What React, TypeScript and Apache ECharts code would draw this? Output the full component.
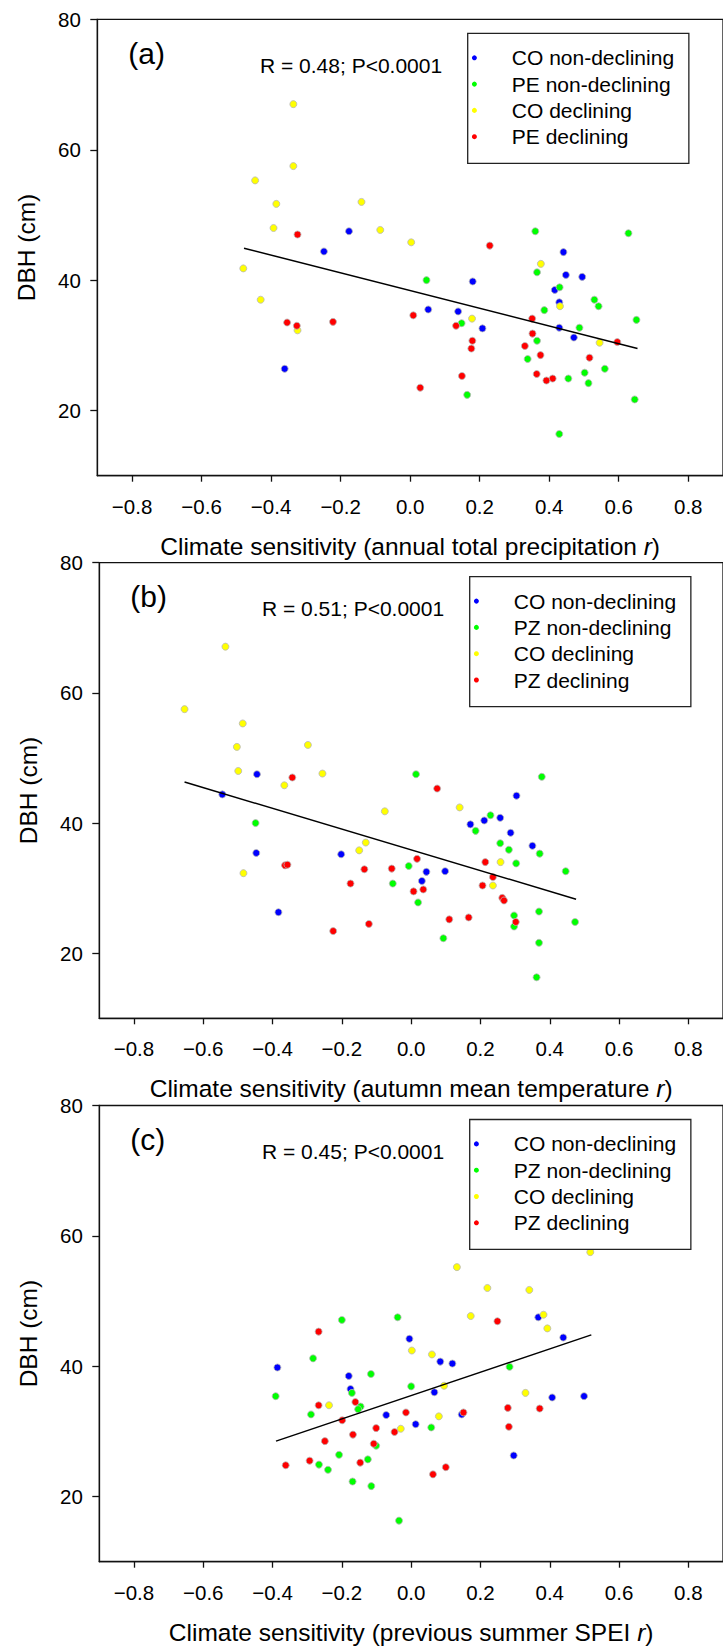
import React, { useEffect, useRef } from "react";
import * as echarts from "echarts";

// ---------- tick labels ----------
const xTicks = [-0.8, -0.6, -0.4, -0.2, 0, 0.2, 0.4, 0.6, 0.8];
const yTicks = [20, 40, 60, 80];

// ---------- panel (a): annual total precipitation ----------
const aCONon = [[-0.176, 47.5], [-0.248, 44.4], [-0.361, 26.4], [0.441, 44.3], [0.448, 40.8], [0.495, 40.5], [0.18, 39.8], [0.416, 38.5], [0.429, 36.6], [0.052, 35.5], [0.138, 35.2], [0.429, 32.7], [0.208, 32.6], [0.471, 31.2]];
const aPENon = [[0.36, 47.5], [0.628, 47.2], [0.365, 41.2], [0.047, 40.0], [0.43, 38.9], [0.53, 37.0], [0.542, 36.0], [0.386, 35.4], [0.651, 33.9], [0.148, 33.4], [0.487, 32.7], [0.365, 30.7], [0.338, 27.9], [0.56, 26.4], [0.502, 25.8], [0.455, 24.9], [0.513, 24.2], [0.164, 22.4], [0.646, 21.7], [0.429, 16.4]];
const aCODec = [[-0.336, 67.0], [-0.336, 57.5], [-0.446, 55.3], [-0.385, 51.7], [-0.14, 52.0], [-0.393, 48.0], [-0.086, 47.7], [0.003, 45.8], [0.376, 42.5], [-0.48, 41.8], [-0.43, 37.0], [0.431, 36.0], [0.178, 34.1], [-0.324, 32.3], [0.545, 30.4]];
const aPEDec = [[-0.324, 47.0], [-0.354, 33.5], [-0.326, 33.0], [-0.222, 33.6], [0.009, 34.6], [0.229, 45.3], [0.351, 34.1], [0.132, 33.0], [0.352, 31.8], [0.179, 30.7], [0.596, 30.5], [0.176, 29.5], [0.33, 29.9], [0.375, 28.5], [0.516, 28.1], [0.364, 25.6], [0.149, 25.3], [0.41, 24.9], [0.392, 24.6], [0.029, 23.5]];
const aFit = [[-0.478, 44.9], [0.654, 29.5]];

// ---------- panel (b): autumn mean temperature ----------
const bCONon = [[-0.445, 47.5], [-0.545, 44.4], [-0.447, 35.4], [-0.202, 35.2], [-0.383, 26.3], [0.304, 44.2], [0.257, 40.8], [0.211, 40.4], [0.171, 39.8], [0.287, 38.5], [0.35, 36.5], [0.098, 32.6], [0.044, 32.5], [0.031, 31.1]];
const bPZNon = [[0.014, 47.5], [0.377, 47.1], [0.229, 41.2], [-0.449, 40.0], [0.186, 38.8], [0.257, 36.9], [0.282, 35.9], [0.371, 35.3], [0.303, 33.8], [-0.007, 33.4], [0.446, 32.6], [-0.053, 30.7], [0.02, 27.8], [0.369, 26.4], [0.297, 25.8], [0.473, 24.8], [0.297, 24.1], [0.093, 22.3], [0.369, 21.6], [0.362, 16.3]];
const bCODec = [[-0.536, 67.1], [-0.654, 57.5], [-0.486, 55.3], [-0.503, 51.7], [-0.298, 52.0], [-0.499, 48.0], [-0.256, 47.6], [-0.366, 45.8], [-0.076, 41.8], [-0.131, 37.0], [-0.15, 35.8], [-0.484, 32.3], [0.14, 42.4], [0.258, 34.0], [0.236, 30.4]];
const bPZDec = [[-0.343, 47.0], [-0.364, 33.5], [-0.357, 33.6], [-0.135, 32.9], [-0.056, 33.0], [-0.175, 30.7], [0.007, 29.5], [0.017, 34.5], [-0.122, 24.5], [-0.225, 23.4], [0.075, 45.3], [0.214, 34.0], [0.236, 31.7], [0.206, 30.4], [0.035, 29.8], [0.263, 28.5], [0.268, 28.1], [0.11, 25.2], [0.166, 25.5], [0.302, 24.8]];
const bFit = [[-0.654, 46.3], [0.476, 28.3]];

// ---------- panel (c): previous summer SPEI ----------
const cCONon = [[-0.005, 44.2], [-0.386, 39.8], [-0.18, 38.5], [-0.175, 36.5], [-0.072, 32.5], [0.367, 47.5], [0.439, 44.4], [0.084, 40.7], [0.119, 40.4], [0.067, 36.0], [0.407, 35.2], [0.499, 35.4], [0.146, 32.6], [0.013, 31.1], [0.296, 26.3]];
const cPZNon = [[-0.2, 47.1], [-0.039, 47.5], [-0.283, 41.2], [-0.116, 38.8], [-0.171, 35.9], [0.0, 36.9], [-0.391, 35.4], [-0.146, 33.8], [-0.153, 33.4], [-0.289, 32.6], [-0.101, 27.8], [-0.208, 26.4], [-0.125, 25.7], [-0.266, 24.9], [-0.24, 24.1], [-0.169, 22.3], [-0.115, 21.6], [-0.035, 16.3], [0.284, 39.9], [0.058, 30.6]];
const cCODec = [[0.517, 57.5], [0.132, 55.2], [0.22, 52.0], [0.341, 51.7], [0.172, 47.7], [0.382, 47.9], [0.393, 45.8], [0.002, 42.4], [0.06, 41.8], [0.095, 37.0], [0.33, 35.9], [-0.237, 34.0], [0.08, 32.3], [-0.03, 30.4]];
const cPZDec = [[-0.267, 45.3], [-0.267, 34.0], [-0.161, 34.5], [-0.015, 32.9], [-0.199, 31.7], [-0.101, 30.5], [-0.048, 29.9], [-0.168, 29.5], [-0.249, 28.5], [-0.108, 28.1], [-0.293, 25.5], [-0.147, 25.2], [-0.362, 24.8], [0.249, 46.9], [0.151, 32.9], [0.279, 33.6], [0.371, 33.5], [0.282, 30.7], [0.1, 24.5], [0.063, 23.4]];
const cFit = [[-0.39, 28.5], [0.52, 44.8]];

const namesA = ["CO non-declining", "PE non-declining", "CO declining", "PE declining"];
const namesBC = ["CO non-declining", "PZ non-declining", "CO declining", "PZ declining"];
const colors = ["#0000ff", "#00ff00", "#ffff00", "#ff0000"];

const FONT = '"Liberation Sans", Arial, Helvetica, sans-serif';

const panels = [
  { left: 97.3, top: 19.4, height: 456.3, tag: "(a)", rText: "R = 0.48; P<0.0001", title: "Climate sensitivity (annual total precipitation {i|r})", names: namesA, data: [aCONon, aPENon, aCODec, aPEDec], fit: aFit },
  { left: 99.3, top: 562.7, height: 455.6, tag: "(b)", rText: "R = 0.51; P<0.0001", title: "Climate sensitivity (autumn mean temperature {i|r})", names: namesBC, data: [bCONon, bPZNon, bCODec, bPZDec], fit: bFit },
  { left: 99.3, top: 1105.5, height: 456.2, tag: "(c)", rText: "R = 0.45; P<0.0001", title: "Climate sensitivity (previous summer SPEI {i|r})", names: namesBC, data: [cCONon, cPZNon, cCODec, cPZDec], fit: cFit },
];

const AXC = "#111";

function fmtX(v: number) {
  const s = Math.abs(v).toFixed(1);
  return v < -1e-9 ? "\u2212" + s : s;
}

function buildOption() {
  const grid: any[] = [];
  const xAxis: any[] = [];
  const yAxis: any[] = [];
  const series: any[] = [];
  const legend: any[] = [];
  const graphic: any[] = [];

  panels.forEach((p, i) => {
    grid.push({
      left: p.left,
      top: p.top,
      width: 633,
      height: p.height,
      show: true,
      borderColor: AXC,
      borderWidth: 1.3,
      backgroundColor: "transparent",
    });
    xAxis.push({
      gridIndex: i,
      type: "value",
      min: -0.9,
      max: 0.9,
      position: "bottom",
      axisLine: { show: true, onZero: false, lineStyle: { color: AXC, width: 1.3 } },
      axisTick: { show: true, inside: false, length: 6, customValues: xTicks, lineStyle: { color: AXC, width: 1.3 } },
      axisLabel: { show: true, customValues: xTicks, formatter: fmtX, margin: 20, fontSize: 20.5, color: "#000", fontFamily: FONT },
      splitLine: { show: false },
      name: p.title,
      nameLocation: "middle",
      nameGap: 58,
      nameTextStyle: {
        fontSize: 24.5,
        color: "#000",
        fontFamily: FONT,
        rich: { i: { fontSize: 24.5, fontStyle: "italic", color: "#000", fontFamily: FONT } },
      },
    });
    yAxis.push({
      gridIndex: i,
      type: "value",
      min: 10,
      max: 80,
      axisLine: { show: true, onZero: false, lineStyle: { color: AXC, width: 1.3 } },
      axisTick: { show: true, inside: false, length: 7, customValues: yTicks, lineStyle: { color: AXC, width: 1.3 } },
      axisLabel: { show: true, customValues: yTicks, margin: 16.5, fontSize: 20.5, color: "#000", fontFamily: FONT },
      splitLine: { show: false },
      name: "DBH (cm)",
      nameLocation: "middle",
      nameGap: 58,
      nameTextStyle: { fontSize: 24.5, color: "#000", fontFamily: FONT },
    });
    p.data.forEach((d, k) => {
      series.push({
        type: "scatter",
        name: p.names[k],
        xAxisIndex: i,
        yAxisIndex: i,
        data: d,
        symbol: "circle",
        symbolSize: 7,
        itemStyle: { color: colors[k], borderColor: "#b8b8b8", borderWidth: 0.8, opacity: 1 },
        emphasis: { disabled: true },
        z: 2 + k * 0.01,
      });
    });
    series.push({
      type: "line",
      name: "fit" + i,
      xAxisIndex: i,
      yAxisIndex: i,
      data: p.fit,
      symbol: "none",
      lineStyle: { color: "#000", width: 1.5 },
      silent: true,
      z: 3,
    });
    legend.push({
      orient: "vertical",
      left: p.left + 370.4,
      top: p.top + 14,
      data: p.names.map((n) => ({ name: n, icon: "circle" })),
      itemWidth: 64.8,
      itemHeight: 5,
      itemGap: 5.3,
      padding: [13.9, 14.8, 16.1, 4.2],
      borderColor: "#222",
      borderWidth: 1.3,
      borderRadius: 0,
      backgroundColor: "#fff",
      selectedMode: false,
      itemStyle: { borderWidth: 0 },
      textStyle: { fontSize: 21, lineHeight: 21, color: "#000", fontFamily: FONT },
      z: 10,
    });
    graphic.push({
      type: "text",
      x: p.left + 31,
      y: p.top + 33.7,
      style: { text: p.tag, fontSize: 30, fontFamily: FONT, fill: "#000", verticalAlign: "middle", align: "left" },
      z: 10,
    });
    graphic.push({
      type: "text",
      x: p.left + 162.7,
      y: p.top + 46,
      style: { text: p.rText, fontSize: 21, fontFamily: FONT, fill: "#000", verticalAlign: "middle", align: "left" },
      z: 10,
    });
  });

  return {
    animation: false,
    backgroundColor: "#fff",
    grid,
    xAxis,
    yAxis,
    series,
    legend,
    graphic,
  };
}

export default function App() {
  const ref = useRef<HTMLDivElement>(null);
  useEffect(() => {
    if (!ref.current) return;
    const chart = echarts.init(ref.current, null, { renderer: "svg", width: 723, height: 1648 });
    chart.setOption(buildOption() as any);
    return () => chart.dispose();
  }, []);
  return (
    <div
      ref={ref}
      style={{ position: "absolute", left: 0, top: 0, width: 723, height: 1648, background: "#fff" }}
    />
  );
}
